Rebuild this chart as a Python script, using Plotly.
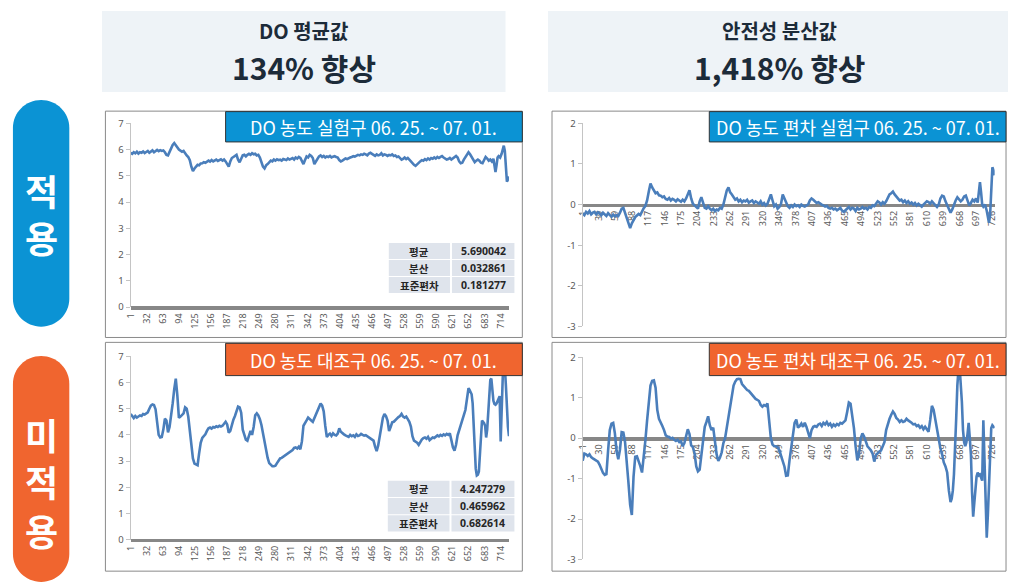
import plotly.graph_objects as go

W, H = 1012, 584

# ---------------- data ----------------
TREAT_IDX = [
    1, 4, 7, 10, 13, 16, 19, 22, 25, 28,
    31, 34, 37, 40, 43, 46, 49, 52, 55, 58,
    61, 64, 67, 70, 73, 76, 79, 82, 85, 88,
    91, 94, 97, 100, 103, 106, 109, 112, 115, 118,
    121, 124, 127, 130, 133, 136, 139, 142, 145, 148,
    151, 154, 157, 160, 163, 166, 169, 172, 175, 178,
    181, 184, 187, 190, 193, 196, 199, 202, 205, 208,
    211, 214, 217, 220, 223, 226, 229, 232, 235, 238,
    241, 244, 247, 250, 253, 256, 259, 262, 265, 268,
    271, 274, 277, 280, 283, 286, 289, 292, 295, 298,
    301, 304, 307, 310, 313, 316, 319, 322, 325, 328,
    331, 334, 337, 340, 343, 346, 349, 352, 355, 358,
    361, 364, 367, 370, 373, 376, 379, 382, 385, 388,
    391, 394, 397, 400, 403, 406, 409, 412, 415, 418,
    421, 424, 427, 430, 433, 436, 439, 442, 445, 448,
    451, 454, 457, 460, 463, 466, 469, 472, 475, 478,
    481, 484, 487, 490, 493, 496, 499, 502, 505, 508,
    511, 514, 517, 520, 523, 526, 529, 532, 535, 538,
    541, 544, 547, 550, 553, 556, 559, 562, 565, 568,
    571, 574, 577, 580, 583, 586, 589, 592, 595, 598,
    601, 604, 607, 610, 613, 616, 619, 622, 625, 628,
    631, 634, 637, 640, 643, 646, 649, 652, 655, 658,
    661, 664, 667, 670, 673, 676, 679, 682, 685, 688,
    691, 694, 697, 700,
    702, 704, 706, 708, 710, 713, 716, 718, 720, 722, 724, 726, 728, 730,
]

# DO level, treated group (실험구)
TREAT_DO = [
    5.88, 5.84, 5.90, 5.86, 5.92, 5.85, 5.90, 5.88, 5.93, 5.87,
    5.91, 5.95, 5.88, 5.93, 5.97, 5.90, 5.95, 5.99, 5.94, 5.98,
    5.95, 5.97, 5.90, 5.80, 5.78, 5.92, 6.05, 6.18, 6.25, 6.15,
    6.06, 6.00, 5.96, 5.92, 5.95, 5.85, 5.78, 5.72, 5.60, 5.35,
    5.18, 5.28, 5.35, 5.42, 5.40, 5.47, 5.48, 5.52, 5.50, 5.55,
    5.58, 5.54, 5.60, 5.55, 5.58, 5.62, 5.57, 5.60, 5.63, 5.58,
    5.62, 5.55, 5.45, 5.35, 5.55, 5.68, 5.72, 5.76, 5.80, 5.62,
    5.52, 5.65, 5.78, 5.80, 5.74, 5.80, 5.84, 5.80, 5.86, 5.82,
    5.84, 5.78, 5.80, 5.70, 5.55, 5.35, 5.28, 5.40, 5.45, 5.52,
    5.58, 5.55, 5.62, 5.58, 5.63, 5.60, 5.62, 5.58, 5.64, 5.62,
    5.60, 5.66, 5.62, 5.65, 5.68, 5.62, 5.70, 5.66, 5.72, 5.68,
    5.55, 5.45, 5.60, 5.74, 5.70, 5.80, 5.76, 5.68, 5.45, 5.55,
    5.66, 5.74, 5.78, 5.72, 5.76, 5.70, 5.74, 5.72, 5.76, 5.70,
    5.73, 5.75, 5.72, 5.70, 5.60, 5.55, 5.58, 5.62, 5.66, 5.64,
    5.68, 5.70, 5.72, 5.75, 5.73, 5.78, 5.80, 5.78, 5.82, 5.80,
    5.84, 5.82, 5.78, 5.85, 5.88, 5.84, 5.80, 5.76, 5.82, 5.78,
    5.80, 5.86, 5.78, 5.82, 5.80, 5.76, 5.80, 5.78, 5.82, 5.76,
    5.78, 5.72, 5.74, 5.66, 5.62, 5.65, 5.70, 5.64, 5.68, 5.62,
    5.55, 5.45, 5.42, 5.38, 5.45, 5.50, 5.55, 5.60, 5.58, 5.64,
    5.60, 5.66, 5.62, 5.68, 5.65, 5.70, 5.66, 5.72, 5.68, 5.72,
    5.75, 5.70, 5.66, 5.62, 5.64, 5.68, 5.62, 5.66, 5.72, 5.76,
    5.70, 5.55, 5.48, 5.50, 5.62, 5.70, 5.80, 5.90, 5.82, 5.70,
    5.60, 5.52, 5.58, 5.62, 5.58, 5.50, 5.48, 5.60, 5.72, 5.66,
    5.58, 5.62, 5.55, 5.65,
    5.40, 5.15, 5.40, 5.70, 5.75, 5.70, 5.85, 6.05, 6.15, 5.95, 5.30, 4.78, 4.85, 4.98,
]

# DO deviation, treated group (편차 실험구)
TREAT_DEV = [
    -0.22, -0.26, -0.18, -0.22, -0.16, -0.24, -0.20, -0.18, -0.24, -0.19,
    -0.22, -0.26, -0.20, -0.23, -0.28, -0.21, -0.25, -0.30, -0.25, -0.29,
    -0.26, -0.28, -0.20, -0.10, -0.08, -0.22, -0.36, -0.50, -0.58, -0.46,
    -0.38, -0.31, -0.27, -0.23, -0.26, -0.16, -0.09, -0.03, 0.10, 0.32,
    0.52, 0.42, 0.35, 0.28, 0.30, 0.23, 0.22, 0.18, 0.20, 0.14,
    0.12, 0.16, 0.10, 0.14, 0.12, 0.08, 0.13, 0.10, 0.07, 0.12,
    0.08, 0.15, 0.25, 0.35, 0.15, 0.02, -0.02, -0.06, -0.10, 0.08,
    0.18, 0.05, -0.08, -0.10, -0.04, -0.10, -0.14, -0.10, -0.16, -0.12,
    -0.14, -0.08, -0.10, 0.00, 0.15, 0.35, 0.42, 0.30, 0.25, 0.18,
    0.12, 0.15, 0.08, 0.12, 0.06, 0.10, 0.08, 0.12, 0.05, 0.08,
    0.10, 0.04, 0.08, 0.05, 0.02, 0.08, 0.00, 0.04, -0.02, 0.02,
    0.15, 0.25, 0.10, -0.04, 0.00, -0.10, -0.06, 0.02, 0.25, 0.15,
    0.04, -0.04, -0.08, -0.02, -0.06, 0.00, -0.04, -0.02, -0.06, 0.00,
    -0.03, -0.05, -0.02, 0.00, 0.10, 0.15, 0.12, 0.08, 0.04, 0.06,
    0.02, 0.00, -0.02, -0.05, -0.03, -0.08, -0.10, -0.08, -0.12, -0.10,
    -0.14, -0.12, -0.08, -0.15, -0.18, -0.14, -0.10, -0.06, -0.12, -0.08,
    -0.10, -0.16, -0.08, -0.12, -0.10, -0.06, -0.10, -0.08, -0.12, -0.06,
    -0.08, -0.02, -0.04, 0.04, 0.08, 0.05, 0.00, 0.06, 0.02, 0.08,
    0.15, 0.25, 0.28, 0.32, 0.25, 0.20, 0.15, 0.10, 0.12, 0.06,
    0.10, 0.04, 0.08, 0.02, 0.05, 0.00, 0.04, -0.02, 0.02, -0.02,
    -0.05, 0.00, 0.04, 0.08, 0.06, 0.02, 0.08, 0.04, -0.02, -0.06,
    0.00, 0.15, 0.22, 0.20, 0.08, 0.00, -0.10, -0.20, -0.12, 0.00,
    0.10, 0.18, 0.12, 0.08, 0.12, 0.20, 0.22, 0.10, -0.02, 0.04,
    0.12, 0.08, 0.15, 0.05,
    0.30, 0.55, 0.30, 0.00, -0.05, 0.00, -0.15, -0.35, -0.45, -0.25, 0.40, 0.92, 0.85, 0.72,
]

CTRL_IDX = [
    1, 4, 7, 10, 13, 16, 19, 22, 25, 28,
    31, 34, 37, 40, 43, 46, 49, 52, 55, 58,
    61, 64, 67, 70, 73, 76, 79, 82, 85, 88,
    91, 94, 97, 100, 103, 106, 109, 112, 115, 118,
    121, 124, 127, 130, 133, 136, 139, 142, 145, 148,
    151, 154, 157, 160, 163, 166, 169, 172, 175, 178,
    181, 184, 187, 190, 193, 196, 199, 202, 205, 208,
    211, 214, 217, 220, 223, 226, 229, 232, 235, 238,
    241, 244, 247, 250, 253, 256, 259, 262, 265, 268,
    271, 274, 277, 280, 283, 286, 289, 292, 295, 298,
    301, 304, 307, 310, 313, 316, 319, 322, 325, 328,
    331, 334, 337, 340, 343, 346, 349, 352, 355, 358,
    361, 364, 367, 370, 373, 376, 379, 382, 385, 388,
    391, 394, 397, 400, 403, 406, 409, 412, 415, 418,
    421, 424, 427, 430, 433, 436, 439, 442, 445, 448,
    451, 454, 457, 460, 463, 466, 469, 472, 475, 478,
    481, 484, 487, 490, 493, 496, 499, 502, 505, 508,
    511, 514, 517, 520, 523, 526, 529, 532, 535, 538,
    541, 544, 547, 550, 553, 556, 559, 562, 565, 568,
    571, 574, 577, 580, 583, 586, 589, 592, 595, 598,
    601, 604, 607, 610, 613, 616, 619, 622, 625, 628,
    631, 634, 637, 640, 643, 646, 649, 652,
    654, 656, 658, 660, 662, 664, 666, 668, 670, 672,
    674, 676, 678, 680, 682, 684, 686, 688, 690, 692,
    694, 696, 698, 700, 702, 704, 706, 708, 710, 712,
    714, 716, 718, 720, 722, 724, 726, 728, 730,
]

# DO level, control group (대조구)
CTRL_DO = [
    4.80, 4.70, 4.64, 4.72, 4.66, 4.70, 4.74, 4.72, 4.80, 4.78,
    4.82, 4.86, 5.00, 5.12, 5.16, 5.14, 4.98, 4.55, 4.00, 3.90,
    3.92, 4.20, 4.62, 4.55, 4.10, 4.30, 4.70, 5.20, 5.75, 6.15,
    5.50, 4.65, 4.70, 4.76, 4.82, 5.05, 5.00, 4.70, 4.16, 3.55,
    3.10, 2.90, 2.86, 2.84, 3.30, 3.70, 3.88, 3.95, 4.02, 4.15,
    4.25, 4.28, 4.24, 4.30, 4.28, 4.33, 4.30, 4.35, 4.32, 4.35,
    4.42, 4.50, 4.40, 4.08, 4.15, 4.40, 4.58, 4.72, 4.90, 5.08,
    5.05, 4.85, 4.20, 3.95, 3.82, 3.78, 3.95, 4.15, 4.00, 4.30,
    4.75, 4.82, 4.74, 4.60, 4.38, 4.05, 3.80, 3.40, 3.12, 2.92,
    2.85, 2.80, 2.80, 2.82, 2.92, 3.02, 3.10, 3.12, 3.16, 3.22,
    3.25, 3.28, 3.33, 3.36, 3.42, 3.50, 3.52, 3.48, 3.55, 3.45,
    3.75, 4.35, 4.48, 4.55, 4.66, 4.62, 4.55, 4.50, 4.65, 4.75,
    4.92, 5.05, 5.20, 5.12, 4.90, 4.35, 3.92, 4.00, 4.05, 3.96,
    4.06, 4.00, 3.98, 4.05, 4.25, 4.12, 4.05, 4.02, 3.98, 3.96,
    3.92, 4.00, 3.95, 3.98, 3.92, 4.02, 3.96, 3.98, 4.04, 4.00,
    3.97, 3.99, 3.95, 3.92, 3.88, 3.85, 3.78, 3.55, 3.38, 3.60,
    3.95, 4.35, 4.65, 4.80, 4.72, 4.55, 4.15, 4.30, 4.48, 4.50,
    4.58, 4.62, 4.68, 4.72, 4.80, 4.70, 4.66, 4.70, 4.60, 4.50,
    4.32, 3.95, 3.78, 3.75, 3.70, 3.62, 3.75, 3.82, 3.88, 3.90,
    3.85, 3.92, 3.80, 3.86, 3.90, 3.88, 3.95, 3.98, 3.94, 4.00,
    3.96, 4.02, 3.98, 4.04, 4.00, 4.06, 3.80, 3.52, 3.40, 3.62,
    3.98, 4.20, 4.40, 4.60, 4.75, 4.95, 5.30, 5.78,
    5.72, 5.62, 5.55, 5.20, 4.40, 3.40, 2.70, 2.45, 2.48, 2.60,
    3.20, 4.20, 4.55, 4.50, 4.45, 4.35, 3.90, 4.20, 4.80, 5.60,
    6.10, 6.15, 5.70, 5.30, 5.18, 5.15, 5.20, 5.30, 5.40, 5.48,
    3.75, 5.20, 6.20, 6.70, 6.60, 5.90, 5.00, 4.30, 3.95,
]

# DO deviation, control group (편차 대조구)
CTRL_DEV = [
    -0.56, -0.38, -0.40, -0.44, -0.40, -0.47, -0.50, -0.52, -0.54, -0.58,
    -0.66, -0.78, -0.86, -0.91, -0.89, -0.30, 0.20, 0.36, 0.38, 0.12,
    -0.32, -0.52, -0.28, 0.15, 0.14, -0.10, -0.55, -1.10, -1.65, -1.90,
    -0.95, -0.46, -0.45, -0.55, -0.69, -0.85, -0.52, -0.05, 0.44, 0.98,
    1.30, 1.42, 1.43, 1.25, 0.70, 0.48, 0.40, 0.30, 0.20, 0.07,
    0.04, 0.03, -0.01, 0.01, -0.04, -0.07, -0.04, -0.10, -0.08, -0.20,
    -0.12, 0.06, 0.22, 0.10, -0.18, -0.22, -0.38, -0.70, -0.82, -0.78,
    -0.40, 0.05, 0.28, 0.40, 0.54, 0.32, 0.20, 0.26, -0.10, -0.40,
    -0.56, -0.48, -0.35, -0.12, 0.00, 0.25, 0.50, 0.80, 1.10, 1.30,
    1.40, 1.46, 1.47, 1.46, 1.34, 1.28, 1.23, 1.19, 1.17, 1.12,
    1.08, 1.02, 0.97, 0.95, 0.92, 0.82, 0.78, 0.82, 0.80, 0.86,
    0.50, 0.00, -0.16, -0.20, -0.20, -0.22, -0.30, -0.45, -0.55, -0.70,
    -0.93, -0.92, -0.55, -0.20, 0.15, 0.38, 0.46, 0.26, 0.30, 0.36,
    0.28, 0.38, 0.28, 0.12, 0.00, 0.20, 0.28, 0.30, 0.28, 0.34,
    0.36, 0.30, 0.38, 0.34, 0.40, 0.32, 0.36, 0.28, 0.34, 0.30,
    0.35, 0.32, 0.38, 0.36, 0.40, 0.44, 0.65, 0.88, 0.85, 0.58,
    0.25, -0.20, -0.55, -0.40, 0.00, 0.12, 0.04, -0.08, -0.20, -0.25,
    -0.30, -0.38, -0.58, -0.42, -0.36, -0.33, -0.30, -0.20, -0.10, 0.20,
    0.35, 0.48, 0.58, 0.66, 0.60, 0.50, 0.46, 0.40, 0.44, 0.40,
    0.42, 0.48, 0.44, 0.42, 0.38, 0.34, 0.35, 0.30, 0.32, 0.26,
    0.30, 0.22, 0.28, 0.22, 0.16, 0.45, 0.80, 0.70, 0.45, 0.20,
    0.00, -0.25, -0.40, -0.60, -0.70, -0.85, -1.30, -1.58,
    -1.50, -1.30, -0.90, -0.30, 0.50, 1.30, 1.70, 1.76, 1.40, 0.90,
    0.20, -0.10, -0.20, -0.10, 0.10, 0.38, 0.00, -0.40, -1.33, -1.94,
    -1.60, -1.30, -0.95, -0.85, -0.92, -0.90, -0.98, -1.05, 0.44, -0.40,
    -1.20, -2.46, -1.90, -1.00, -0.30, 0.25, 0.32, 0.28, 0.25,
]

assert len(TREAT_IDX) == len(TREAT_DO) == len(TREAT_DEV), (len(TREAT_IDX), len(TREAT_DO), len(TREAT_DEV))
assert len(CTRL_IDX) == len(CTRL_DO) == len(CTRL_DEV), (len(CTRL_IDX), len(CTRL_DO), len(CTRL_DEV))

LEVEL_XTICKS = [1, 32, 63, 94, 125, 156, 187, 218, 249, 280, 311, 342, 373,
                404, 435, 466, 497, 528, 559, 590, 621, 652, 683, 714]
DEV_XTICKS = [1, 30, 59, 88, 117, 146, 175, 204, 233, 262, 291, 320, 349,
              378, 407, 436, 465, 494, 523, 552, 581, 610, 639, 668, 697, 726]
LEVEL_YTICKS = [0, 1, 2, 3, 4, 5, 6, 7]
DEV_YTICKS = [-3, -2, -1, 0, 1, 2]

STAT_NAMES = ["평균", "분산", "표준편차"]
TREAT_STATS = ["5.690042", "0.032861", "0.181277"]
CTRL_STATS = ["4.247279", "0.465962", "0.682614"]

HEAD_LEFT = ["DO 평균값", "134% 향상"]
HEAD_RIGHT = ["안전성 분산값", "1,418% 향상"]
CHART_TITLES = [
    "DO 농도 실험구 06. 25. ~ 07. 01.",
    "DO 농도 편차 실험구 06. 25. ~ 07. 01.",
    "DO 농도 대조구 06. 25. ~ 07. 01.",
    "DO 농도 편차 대조구 06. 25. ~ 07. 01.",
]
SIDE_TOP = ["적", "용"]
SIDE_BOTTOM = ["미", "적", "용"]

# ---------------- styling ----------------
KR = "Noto Sans CJK KR"
TICKFONT = "Noto Sans"
LINE_COLOR = "#4a7ebb"
BLUE = "#0b93d4"
ORANGE = "#f0652f"
NAVY = "#1c2b39"
AXIS_GRAY = "#878787"
TICK_GRAY = "#595959"
HEAD_BG = "#eef3f7"
CELL_BG = "#dfe4ec"


def px(x):
    return x / W


def py(y):
    return 1 - y / H


def rect(x0, y0, x1, y1, fill, line_color=None, line_width=0):
    return dict(type="rect", xref="paper", yref="paper",
                x0=px(x0), x1=px(x1), y0=py(y1), y1=py(y0),
                fillcolor=fill,
                line=dict(color=line_color or "rgba(0,0,0,0)", width=line_width),
                layer="above")


def pill(x0, y0, x1, y1, fill):
    r = (x1 - x0) / 2.0
    k = 0.5523 * r
    pts = [
        ("M", [(x0 + r, y0)]),
        ("C", [(x0 + r + k, y0), (x1, y0 + r - k), (x1, y0 + r)]),
        ("L", [(x1, y1 - r)]),
        ("C", [(x1, y1 - r + k), (x0 + r + k, y1), (x0 + r, y1)]),
        ("C", [(x0 + r - k, y1), (x0, y1 - r + k), (x0, y1 - r)]),
        ("L", [(x0, y0 + r)]),
        ("C", [(x0, y0 + r - k), (x0 + r - k, y0), (x0 + r, y0)]),
    ]
    d = ""
    for cmd, plist in pts:
        d += cmd + " " + " ".join(f"{px(a):.5f},{py(b):.5f}" for a, b in plist) + " "
    d += "Z"
    return dict(type="path", xref="paper", yref="paper", path=d,
                fillcolor=fill, line=dict(width=0), layer="above")


def label(x, y, s, size, color, weight=400, family=KR, xanchor="center"):
    return dict(xref="paper", yref="paper", x=px(x), y=py(y), text=s,
                showarrow=False, xanchor=xanchor, yanchor="middle",
                font=dict(family=family, size=size, color=color, weight=weight))


fig = go.Figure()

LX0, LX1 = 125, 507.5
RX0, RX1 = 582, 998.5
panels = [
    dict(n="", x=(LX0, LX1), ybot=307.0, ytop=119.0, rng=[0, 7], zero=307.0,
         xt=LEVEL_XTICKS, yt=LEVEL_YTICKS, X=TREAT_IDX, Y=TREAT_DO),
    dict(n="2", x=(RX0, RX1), ybot=326.7, ytop=119.0, rng=[-3, 2], zero=202.1,
         xt=DEV_XTICKS, yt=DEV_YTICKS, X=TREAT_IDX, Y=TREAT_DEV),
    dict(n="3", x=(LX0, LX1), ybot=544.7, ytop=357.3, rng=[0, 7], zero=544.7,
         xt=LEVEL_XTICKS, yt=LEVEL_YTICKS, X=CTRL_IDX, Y=CTRL_DO),
    dict(n="4", x=(RX0, RX1), ybot=565.0, ytop=358.3, rng=[-3, 2], zero=441.0,
         xt=DEV_XTICKS, yt=DEV_YTICKS, X=CTRL_IDX, Y=CTRL_DEV),
]

layout_axes = {}
for p in panels:
    n = p["n"]
    fig.add_trace(go.Scatter(
        x=p["X"], y=p["Y"], mode="lines",
        line=dict(color=LINE_COLOR, width=2.6),
        xaxis="x" + n, yaxis="y" + n, hoverinfo="skip", showlegend=False))
    layout_axes["xaxis" + n] = dict(
        domain=[px(p["x"][0]), px(p["x"][1])], range=[1, 730],
        anchor="free", position=py(p["zero"]),
        tickmode="array", tickvals=p["xt"], ticktext=[str(t) for t in p["xt"]],
        tickangle=-90, tickfont=dict(family=TICKFONT, size=9, color=TICK_GRAY),
        showline=True, linecolor=AXIS_GRAY, linewidth=3.6,
        ticks="", showgrid=False, zeroline=False, layer="below traces",
        fixedrange=True)
    layout_axes["yaxis" + n] = dict(
        domain=[py(p["ybot"]), py(p["ytop"])], range=p["rng"],
        anchor="x" + n, tickmode="array", tickvals=p["yt"],
        ticktext=[str(t) for t in p["yt"]],
        tickfont=dict(family=TICKFONT, size=9.5, color=TICK_GRAY),
        showline=True, linecolor="#c4c4c4", linewidth=1,
        ticks="outside", ticklen=4, tickcolor="#c4c4c4",
        showgrid=False, zeroline=False, fixedrange=True)

shapes = []
annotations = []

# header boxes
shapes.append(rect(96, 4, 504, 87, HEAD_BG))
shapes.append(rect(547, 4, 1012, 87, HEAD_BG))
annotations.append(label(300, 24.5, HEAD_LEFT[0], 20, NAVY, 700))
annotations.append(label(300, 61.5, HEAD_LEFT[1], 30, NAVY, 700))
annotations.append(label(781, 24.5, HEAD_RIGHT[0], 20, NAVY, 700))
annotations.append(label(781, 61.5, HEAD_RIGHT[1], 30, NAVY, 700))

# side pills
shapes.append(pill(6, 95, 63, 327, BLUE))
shapes.append(pill(6, 357, 63, 588, ORANGE))
for ch, yy in zip(SIDE_TOP, [187, 235]):
    annotations.append(label(34.5, yy, ch, 36, "white", 700))
for ch, yy in zip(SIDE_BOTTOM, [437, 485, 535]):
    annotations.append(label(34.5, yy, ch, 36, "white", 700))

# panel borders
for (x0, y0, x1, y1) in [(99.5, 106.5, 521, 338), (551, 106.5, 1010, 338),
                         (99.5, 343, 521, 577), (551, 343, 1010, 577)]:
    shapes.append(rect(x0, y0, x1, y1, "rgba(0,0,0,0)", "#8a8a8a", 1))

# chart title boxes
title_boxes = [
    (221, 107, 521, 138, BLUE),
    (710, 107, 1010, 138, BLUE),
    (221, 344, 521, 377, ORANGE),
    (710, 344, 1010, 377, ORANGE),
]
for (x0, y0, x1, y1, c), t in zip(title_boxes, CHART_TITLES):
    shapes.append(rect(x0, y0, x1, y1, c, "#333333", 1))
    annotations.append(label((x0 + x1) / 2, (y0 + y1) / 2 + 0.5, t, 18, "white", 400))

# statistics tables
for (tx0, tx1, ty0, ty1), stats in [((386, 513, 241, 293), TREAT_STATS),
                                    ((385, 513, 484, 537), CTRL_STATS)]:
    split = tx0 + (tx1 - tx0) * 0.495
    rh = (ty1 - ty0) / 3.0
    for r, (name, val) in enumerate(zip(STAT_NAMES, stats)):
        r0 = ty0 + r * rh + 0.5
        r1 = ty0 + (r + 1) * rh - 0.5
        shapes.append(rect(tx0, r0, split - 1, r1, CELL_BG))
        shapes.append(rect(split + 1, r0, tx1, r1, CELL_BG))
        cy = (r0 + r1) / 2
        annotations.append(label((tx0 + split - 1) / 2, cy, name, 10.5, "#262626", 700))
        annotations.append(label((split + 1 + tx1) / 2, cy, val, 10.5, "#262626", 700,
                                 family="Noto Sans"))

fig.update_layout(
    width=W, height=H, margin=dict(l=0, r=0, t=0, b=0),
    paper_bgcolor="white", plot_bgcolor="rgba(0,0,0,0)",
    showlegend=False, shapes=shapes, annotations=annotations,
    **layout_axes)

fig.write_html(
    "out.html",
    config={"displayModeBar": False, "staticPlot": True},
    post_script="document.body.style.margin='0';document.body.style.overflow='hidden';")
